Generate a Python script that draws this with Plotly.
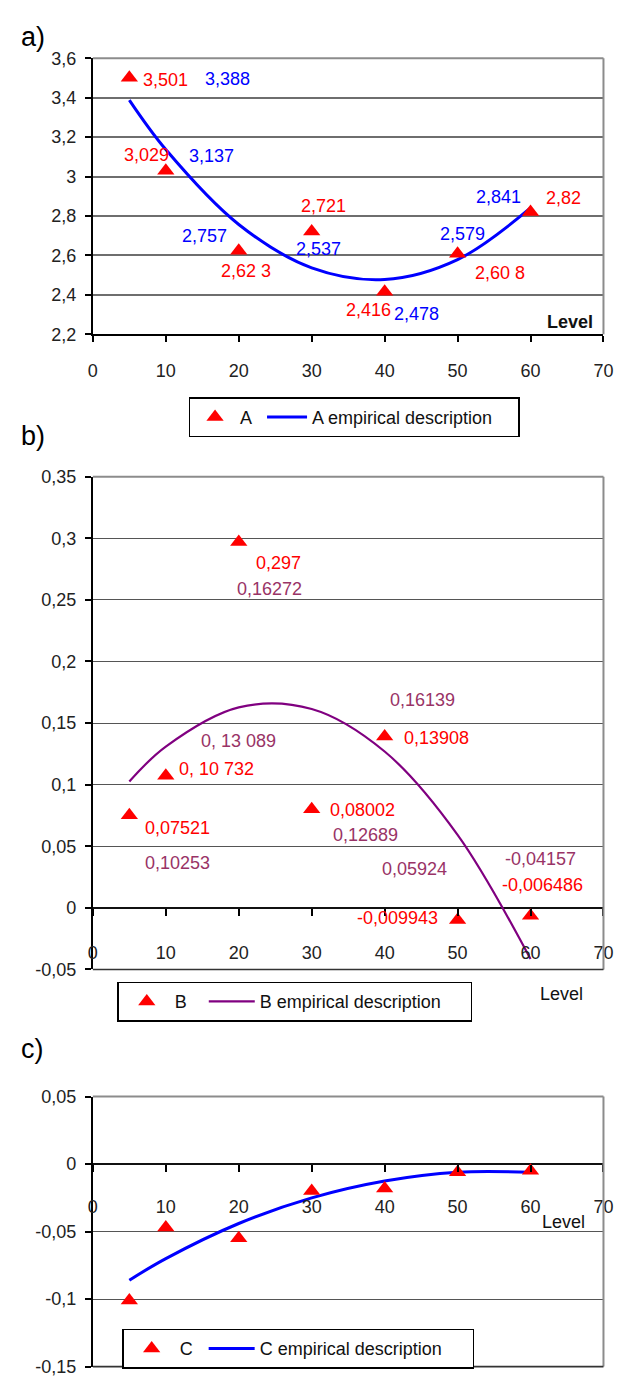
import plotly.graph_objects as go

# ---------------- data ----------------
levels = [5, 10, 20, 30, 40, 50, 60]

a_values = [3.501, 3.029, 2.623, 2.721, 2.416, 2.608, 2.82]
a_empirical = [3.388, 3.137, 2.757, 2.537, 2.478, 2.579, 2.841]
a_value_labels = ["3,501", "3,029", "2,62 3", "2,721", "2,416", "2,60 8", "2,82"]
a_empirical_labels = ["3,388", "3,137", "2,757", "2,537", "2,478", "2,579", "2,841"]

b_values = [0.07521, 0.10732, 0.297, 0.08002, 0.13908, -0.009943, -0.006486]
b_empirical = [0.10253, 0.13089, 0.16272, 0.16139, 0.12689, 0.05924, -0.04157]
b_value_labels = ["0,07521", "0, 10 732", "0,297", "0,08002", "0,13908", "-0,009943", "-0,006486"]
b_empirical_labels = ["0,10253", "0, 13 089", "0,16272", "0,16139", "0,12689", "0,05924", "-0,04157"]

c_values = [-0.101, -0.047, -0.055, -0.020, -0.018, -0.006, -0.005]
c_empirical = [-0.086, -0.070, -0.044, -0.025, -0.0125, -0.006, -0.006]

x_tickvals = [0, 10, 20, 30, 40, 50, 60, 70]
x_ticktext = ["0", "10", "20", "30", "40", "50", "60", "70"]
a_tickvals = [2.2, 2.4, 2.6, 2.8, 3.0, 3.2, 3.4, 3.6]
a_ticktext = ["2,2", "2,4", "2,6", "2,8", "3", "3,2", "3,4", "3,6"]
b_tickvals = [-0.05, 0, 0.05, 0.1, 0.15, 0.2, 0.25, 0.3, 0.35]
b_ticktext = ["-0,05", "0", "0,05", "0,1", "0,15", "0,2", "0,25", "0,3", "0,35"]
c_tickvals = [-0.15, -0.1, -0.05, 0, 0.05]
c_ticktext = ["-0,15", "-0,1", "-0,05", "0", "0,05"]

# ---------------- styling / layout helpers ----------------
W, H = 633, 1385
FONT = "Liberation Sans, Arial, sans-serif"


def fx(px):
    return px / W


def fy(py):
    return 1 - py / H


RED = "#FF0000"
BLUE = "#0000FF"
PURPLE = "#800080"
MAUVE = "#993366"

# label offsets (xshift, yshift) in px
a_val_off = [(36, -2), (-19, 16), (7, -20), (12, 26), (-16, -18), (42, -19), (33, 14)]
a_emp_off = [(98, 21), (46, -6), (-34, -12), (7, 19), (32, -35), (5, 26), (-32, 11)]
b_val_off = [(48, -13), (51, 7), (40, -21), (51, -1), (52, -1), (-60, 2), (12, 31)]
b_emp_off = [(48, -81), (73, 6), (31, 118), (111, 9), (-19, -83), (-43, -34), (10, 100)]

fig = go.Figure()

panels = [
    dict(ax="", vals=a_values, emp=a_empirical, name="A", lc=BLUE, lw=3, leg="legend",
         w_pts=17, w_line=201),
    dict(ax="2", vals=b_values, emp=b_empirical, name="B", lc=PURPLE, lw=2.2, leg="legend2",
         w_pts=24, w_line=206),
    dict(ax="3", vals=c_values, emp=c_empirical, name="C", lc=BLUE, lw=3, leg="legend3",
         w_pts=19, w_line=208),
]

for p in panels:
    xa = "x" + p["ax"]
    ya = "y" + p["ax"]
    fig.add_trace(go.Scatter(
        x=levels, y=p["emp"], mode="lines", xaxis=xa, yaxis=ya,
        line=dict(color=p["lc"], width=p["lw"], shape="spline", smoothing=1.0),
        name=p["name"] + " empirical description", legend=p["leg"], legendrank=2,
        legendwidth=p["w_line"], hoverinfo="skip"))
    fig.add_trace(go.Scatter(
        x=levels, y=p["vals"], mode="markers", xaxis=xa, yaxis=ya,
        marker=dict(symbol="triangle-up", size=15, color=RED, line=dict(width=0)),
        name=p["name"], legend=p["leg"], legendrank=1, legendwidth=p["w_pts"],
        hoverinfo="skip"))

annotations = []
for xs, ys, texts, offs, col, ax in [
    (levels, a_values, a_value_labels, a_val_off, RED, ""),
    (levels, a_empirical, a_empirical_labels, a_emp_off, BLUE, ""),
    (levels, b_values, b_value_labels, b_val_off, RED, "2"),
    (levels, b_empirical, b_empirical_labels, b_emp_off, MAUVE, "2"),
]:
    for xv, yv, t, (dx, dy) in zip(xs, ys, texts, offs):
        annotations.append(dict(
            x=xv, y=yv, xref="x" + ax, yref="y" + ax, text=t, showarrow=False,
            xshift=dx, yshift=dy, xanchor="center", yanchor="middle",
            font=dict(family=FONT, size=18, color=col)))

# panel letters
for t, px, py in [("a)", 29, 27), ("b)", 29, 432), ("c)", 28, 1054)]:
    annotations.append(dict(x=fx(px), y=fy(py), xref="paper", yref="paper", text=t,
                            showarrow=False, xanchor="center", yanchor="middle",
                            font=dict(family=FONT, size=27, color="black")))

# "Level" labels
for t, px, py in [("<b>Level</b>", 579, 317), ("Level", 570, 998), ("Level", 572, 1230)]:
    annotations.append(dict(x=fx(px), y=fy(py), xref="paper", yref="paper", text=t,
                            showarrow=False, xanchor="center", yanchor="middle",
                            font=dict(family=FONT, size=18, color="#111")))

x_dom = [fx(90), fx(613)]
a_dom = [fy(329), fy(49)]
b_dom = [fy(973.5), fy(473.5)]
c_dom = [fy(1376.5), fy(1102.5)]
b_range = [-0.05, 0.35]
c_range = [-0.15, 0.05]
b_zero = b_dom[0] + (0 - b_range[0]) / (b_range[1] - b_range[0]) * (b_dom[1] - b_dom[0])
c_zero = c_dom[0] + (0 - c_range[0]) / (c_range[1] - c_range[0]) * (c_dom[1] - c_dom[0])

tickfont = dict(family=FONT, size=18, color="#222")

common_x = dict(range=[0, 70], tickvals=x_tickvals, ticktext=x_ticktext, showgrid=False,
                zeroline=False, ticks="outside", ticklen=6, tickwidth=1.5, tickcolor="black",
                tickfont=tickfont, domain=x_dom, fixedrange=True)
common_y = dict(showgrid=True, ticks="outside", ticklen=6, tickwidth=1.5, tickcolor="black",
                tickfont=tickfont, showline=True, linecolor="black", linewidth=2,
                ticklabelstandoff=5, fixedrange=True)

layout = dict(
    width=W, height=H, margin=dict(l=0, r=0, t=0, b=0),
    paper_bgcolor="white", plot_bgcolor="white", font=dict(family=FONT, size=18),
    xaxis=dict(common_x, anchor="y", showline=True, linecolor="black", linewidth=2,
               ticklabelstandoff=13),
    yaxis=dict(common_y, anchor="x", domain=a_dom, range=[2.2, 3.6], tickvals=a_tickvals,
               ticktext=a_ticktext, gridcolor="#6e6e6e", gridwidth=1.6, zeroline=False),
    xaxis2=dict(common_x, anchor="free", position=b_zero, showline=False, ticklen=7,
                ticklabelstandoff=22),
    yaxis2=dict(common_y, anchor="x2", domain=b_dom, range=b_range, tickvals=b_tickvals,
                ticktext=b_ticktext, gridcolor="#555555", gridwidth=1, zeroline=True,
                zerolinecolor="#111", zerolinewidth=1.6),
    xaxis3=dict(common_x, anchor="free", position=c_zero, showline=False, ticklen=7,
                ticklabelstandoff=19),
    yaxis3=dict(common_y, anchor="x3", domain=c_dom, range=c_range, tickvals=c_tickvals,
                ticktext=c_ticktext, gridcolor="#555555", gridwidth=1, zeroline=True,
                zerolinecolor="#111", zerolinewidth=1.6),
    annotations=annotations,
    showlegend=True,
)

leg_common = dict(orientation="h", xanchor="left", yanchor="top", bgcolor="white",
                  bordercolor="black", borderwidth=1.5,
                  font=dict(family=FONT, size=18, color="#111"))
layout["legend"] = dict(leg_common, x=fx(188), y=fy(393), itemwidth=40)
layout["legend2"] = dict(leg_common, x=fx(115), y=fy(986), itemwidth=46)
layout["legend3"] = dict(leg_common, x=fx(120), y=fy(1338), itemwidth=46)

shapes = []
for ax, bottom in [("", False), ("2", True), ("3", True)]:
    xr = "x" + ax + " domain"
    yr = "y" + ax + " domain"
    shapes.append(dict(type="line", xref=xr, yref=yr, x0=0, x1=1, y0=1, y1=1,
                       line=dict(color="#8c8c8c", width=2)))
    shapes.append(dict(type="line", xref=xr, yref=yr, x0=1, x1=1, y0=0, y1=1,
                       line=dict(color="#8c8c8c", width=2)))
    if bottom:
        shapes.append(dict(type="line", xref=xr, yref=yr, x0=0, x1=1, y0=0, y1=0,
                           line=dict(color="#333", width=1.6)))
layout["shapes"] = shapes

fig.update_layout(layout)
fig.write_html("out.html")
